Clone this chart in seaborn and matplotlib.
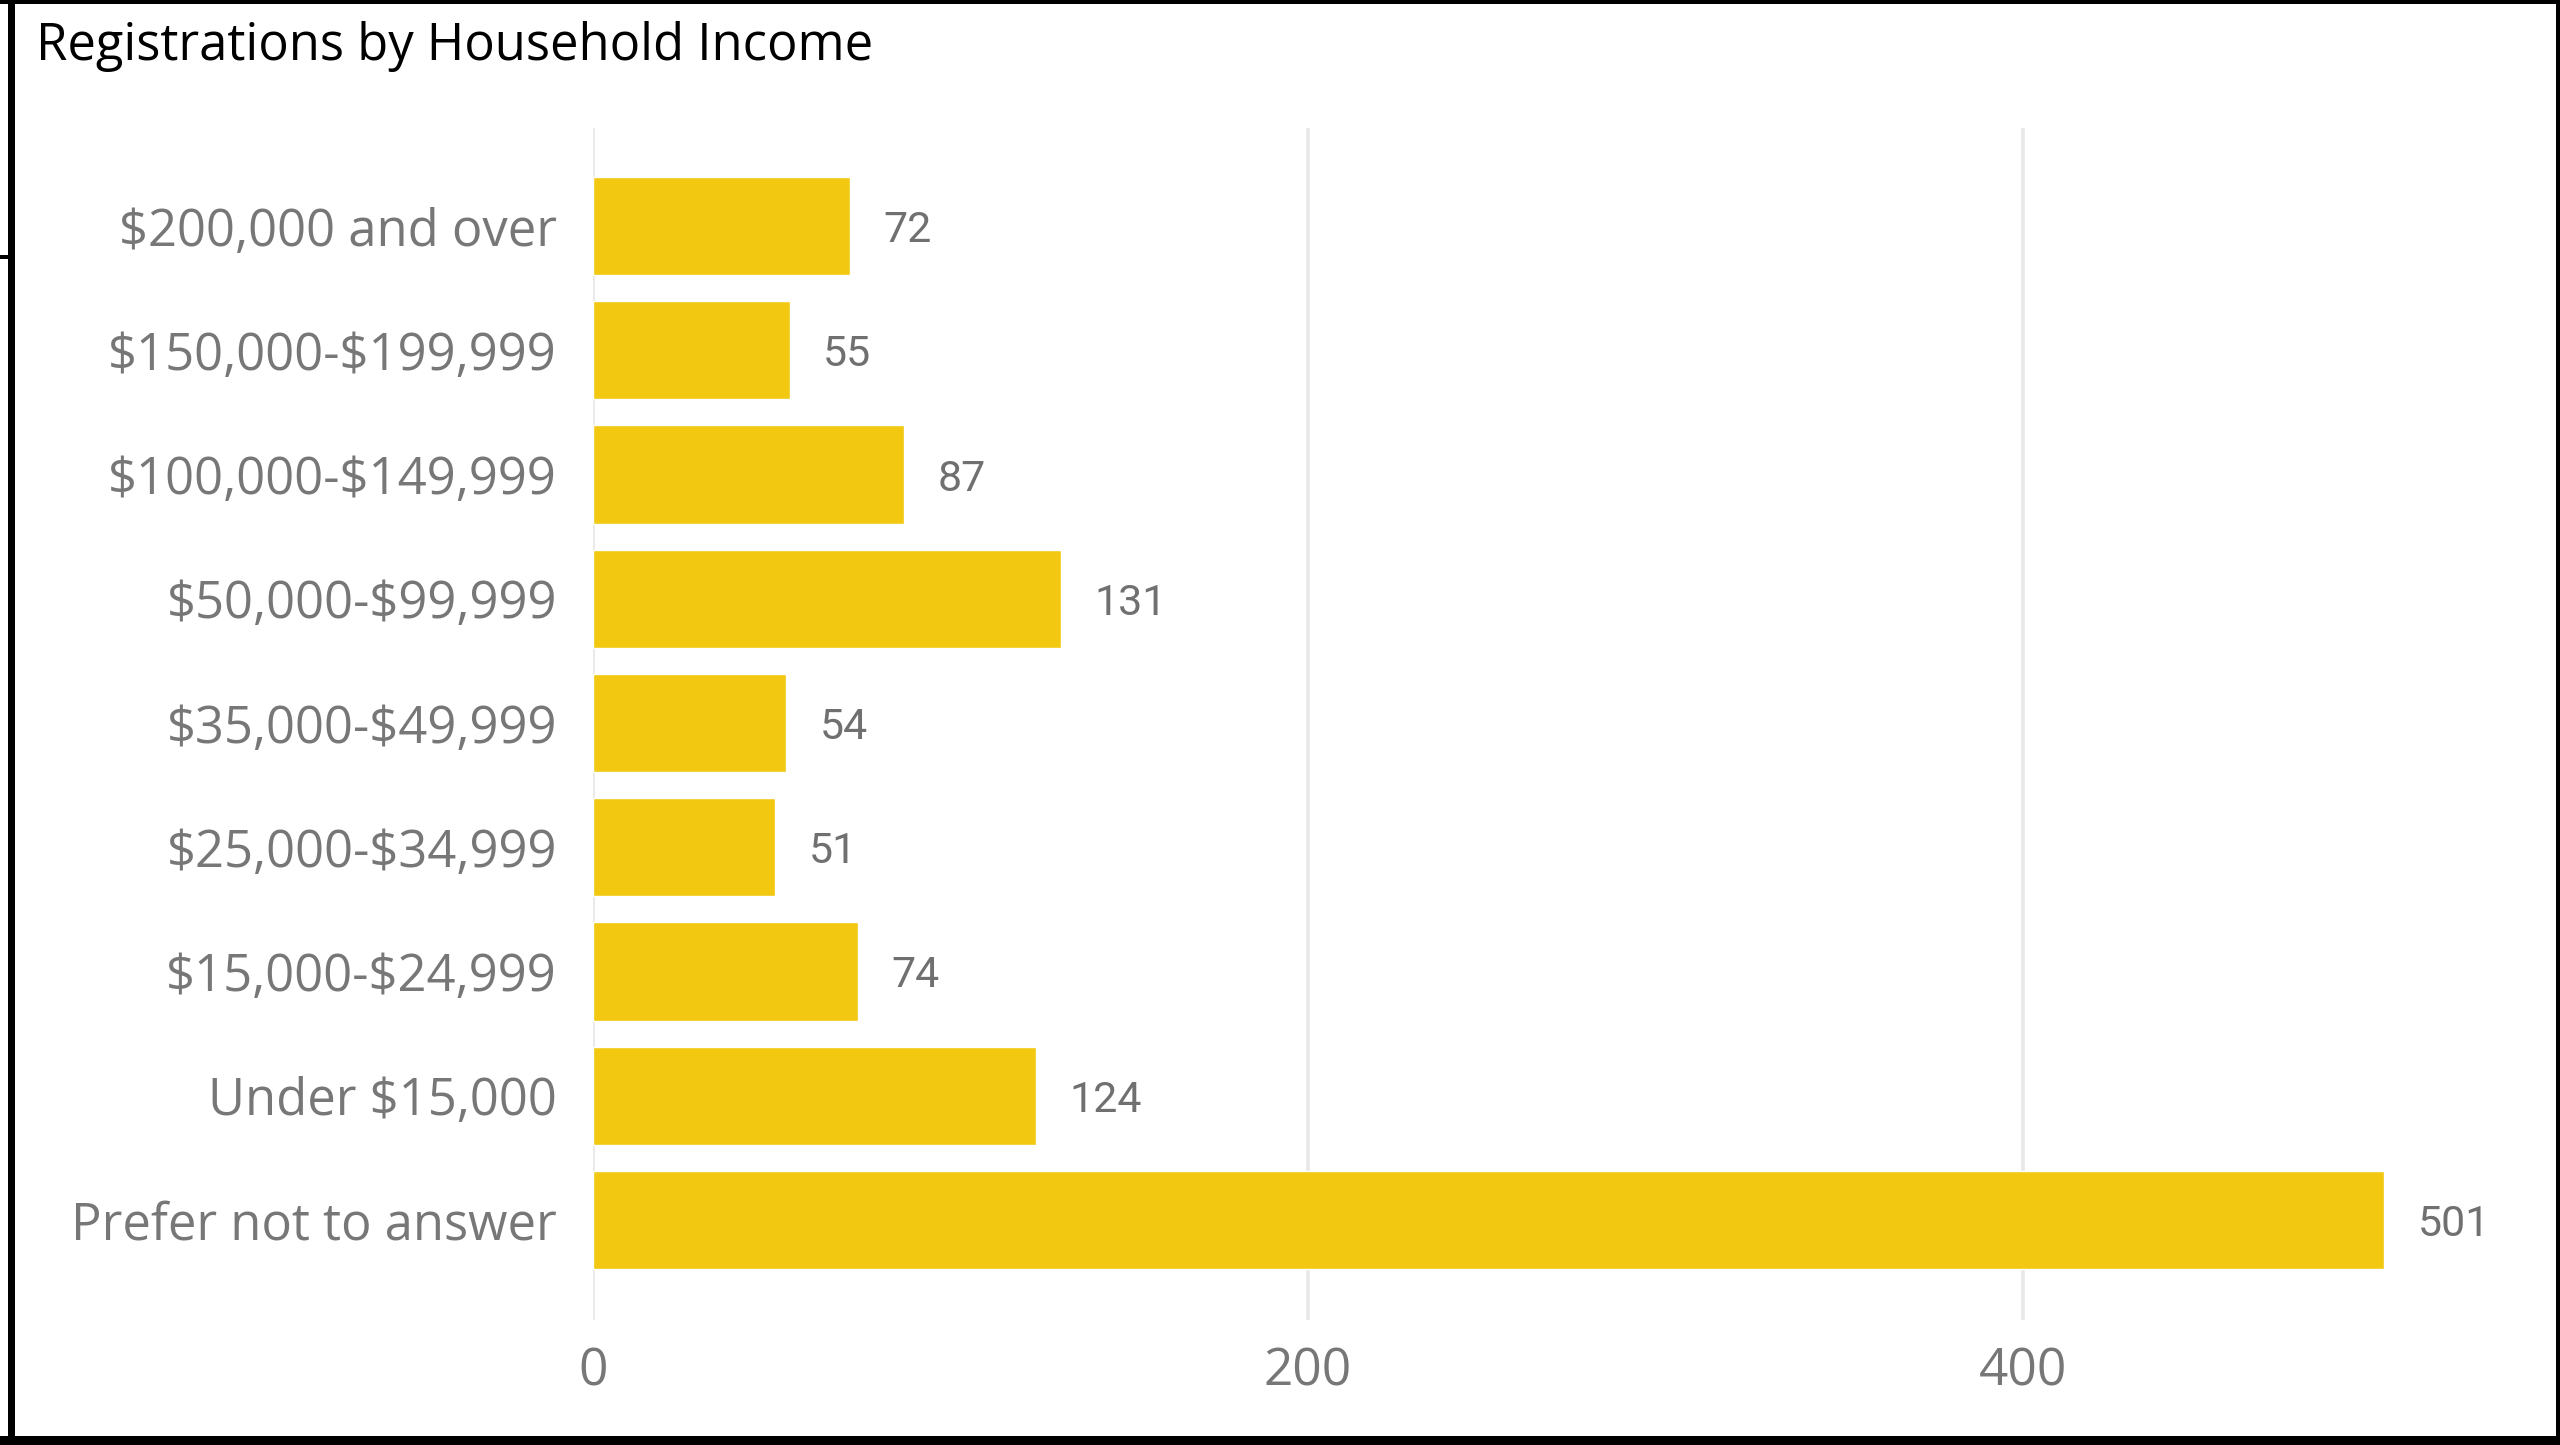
import matplotlib
matplotlib.use("Agg")
import matplotlib.pyplot as plt
import seaborn as sns
import pandas as pd

# --- Data ---
categories = [
    "$200,000 and over",
    "$150,000-$199,999",
    "$100,000-$149,999",
    "$50,000-$99,999",
    "$35,000-$49,999",
    "$25,000-$34,999",
    "$15,000-$24,999",
    "Under $15,000",
    "Prefer not to answer",
]
registrations = [72, 55, 87, 131, 54, 51, 74, 124, 501]
x_ticks = [0, 200, 400]

df = pd.DataFrame({"income": categories, "count": registrations})

W, H = 2560, 1445
BAR_COLOR = "#F2C811"
GREY = "#777777"

sns.set_theme(style="white")
plt.rcParams["font.family"] = ["Open Sans", "DejaVu Sans"]
plt.rcParams["text.parse_math"] = False  # labels contain "$"

fig = plt.figure(figsize=(W / 100, H / 100), dpi=100)
ax = fig.add_axes([593 / W, 1 - 1320 / H, (2540 - 593) / W, (1320 - 128) / H])

sns.barplot(data=df, x="count", y="income", orient="h", color=BAR_COLOR,
            saturation=1, width=0.79, ax=ax, zorder=3)

ax.set_xlim(0, (2540 - 593) / 3.575)
ax.set_ylim(8.805, -0.789)
ax.set_xticks(x_ticks)
ax.xaxis.grid(True, color="#E8E8E8", linewidth=2.6, zorder=0)
ax.yaxis.grid(False)
ax.set_axisbelow(True)
for s in ax.spines.values():
    s.set_visible(False)
ax.set_xlabel("")
ax.set_ylabel("")
ax.tick_params(axis="x", length=0, pad=19, labelsize=37, labelcolor=GREY)
ax.tick_params(axis="y", length=0, pad=26, labelsize=36.5, labelcolor=GREY)

labels = ax.bar_label(ax.containers[0], padding=24, fontsize=31, color="#707070",
                      family=["Roboto", "DejaVu Sans"])
for t in labels:
    t.set_va("center_baseline")

# title
fig.text(36 / W, 1 - 60 / H, "Registrations by Household Income",
         fontsize=36.5, color="black", va="baseline", ha="left")

# black frame around the visual
def frame(x0, y0, x1, y1):
    fig.add_artist(plt.Rectangle((x0 / W, 1 - y1 / H), (x1 - x0) / W, (y1 - y0) / H,
                                 transform=fig.transFigure, color="black", lw=0))

frame(0, 0, W, 4)
frame(8, 0, 15, H)
frame(2556, 0, W, H)
frame(0, 1436, W, H)
frame(0, 255, 9, 259)

fig.savefig("out.png", dpi=100, facecolor="white")
